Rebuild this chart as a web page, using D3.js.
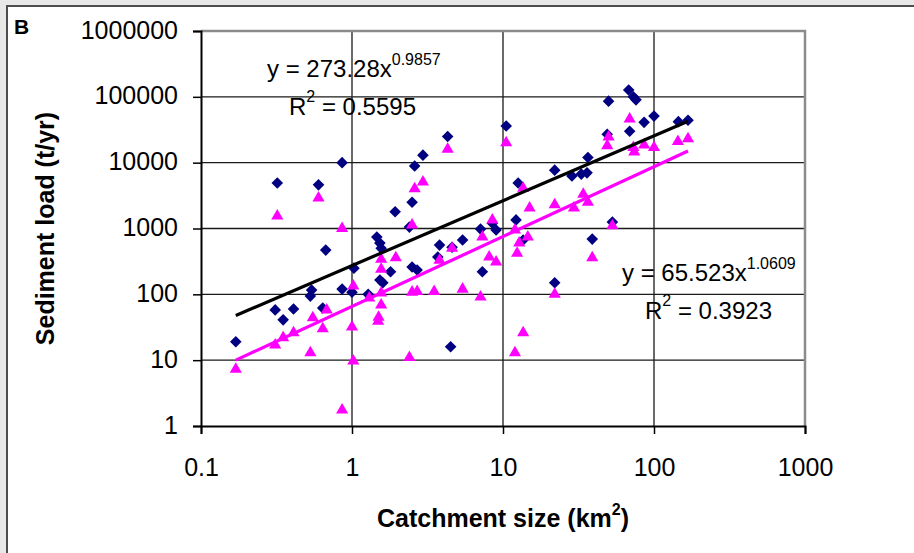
<!DOCTYPE html>
<html>
<head>
<meta charset="utf-8">
<script src="https://cdn.jsdelivr.net/npm/d3@7"></script>
<style>
  body { margin: 0; background: #e8e8e8; }
  svg { display: block; font-family: "Liberation Sans", Arial, sans-serif; }
</style>
</head>
<body>
<div id="chart"></div>
<script>
// catchment size (km2) vs sediment load (t/yr)
var diamondArea = [0.17, 0.32, 0.31, 0.35, 0.41, 0.6, 0.86, 0.54, 0.53, 0.67, 0.64, 0.86, 1.0, 1.03,
    1.46, 1.53, 1.56, 1.53, 1.6, 1.8, 1.28, 1.93, 2.5, 2.6, 2.95, 4.3, 10.5, 12.6, 22, 28.6, 33, 36,
    36.5, 12.2, 8.5, 7.1, 9, 5.4, 2.4, 3.8, 3.7, 2.5, 2.7, 7.3, 4.6, 13.6, 22, 39, 4.5, 68, 73, 76,
    50, 100, 86, 69, 49, 145, 168, 53];
var diamondLoad = [19, 4900, 58, 41, 60, 4600, 10000, 116, 94, 470, 62, 120, 108, 250,
    740, 600, 500, 165, 150, 220, 100, 1800, 2500, 8900, 13000, 25000, 36000, 4900, 7700, 6300, 6700, 7000,
    12000, 1350, 1200, 980, 950, 670, 1050, 560, 370, 260, 234, 220, 520, 670, 150, 690, 16, 127000, 100000, 90000,
    86000, 51000, 41000, 30000, 27000, 42000, 44000, 1250];

var triangleArea = [0.17, 0.32, 0.6, 0.86, 0.31, 0.35, 0.41, 0.53, 0.55, 0.68, 0.64, 1.0, 1.02, 0.86,
    1.02, 1.3, 1.56, 1.5, 1.49, 1.56, 1.56, 1.56, 1.95, 2.5, 2.6, 2.95, 4.3, 10.5, 2.4, 2.5, 2.7, 3.5,
    5.4, 7.1, 4.6, 3.8, 7.3, 8.1, 9, 8.5, 12.4, 12.8, 14.6, 12, 13.6, 12, 22, 39, 15, 22, 29.5, 34,
    36.5, 13.6, 69, 50, 49, 73, 74, 86, 100, 144, 168, 53];
var triangleLoad = [7.3, 1550, 2900, 1000, 17, 22, 26, 13, 44, 58, 30, 32, 9.7, 1.75,
    134, 88, 69, 45, 39, 105, 340, 240, 360, 1130, 4000, 5100, 16000, 20000, 11, 108, 110, 110,
    120, 91, 500, 330, 740, 370, 310, 1350, 420, 600, 740, 950, 26, 13, 100, 360, 2050, 2300, 2050, 3300,
    2500, 4100, 46000, 24500, 18000, 17000, 14500, 18500, 17000, 21000, 23000, 1100];

// power trendlines y = a * x^b, from the labels on the chart
var trendDiamond = {a: 273.28, b: 0.9857, r2: "0.5595"};
var trendTriangle = {a: 65.523, b: 1.0609, r2: "0.3923"};
var trendRange = [0.17, 168];

var xTicks = [0.1, 1, 10, 100, 1000];
var yTicks = [1, 10, 100, 1000, 10000, 100000, 1000000];

function getConfig(){
    let width = 914, height = 553;
    let margin = {top: 31, right: 109, bottom: 127, left: 201};
    let plot = {};
    plot.w = width - margin.left - margin.right;
    plot.h = height - margin.top - margin.bottom;
    plot.grid = "#1a1a1a";
    plot.border = "#8c8c8c";
    return {width, height, margin, plot};
}

function draw(){
    let config = getConfig();
    let m = config.margin;

    let svg = d3.select("#chart").append("svg")
        .attr("width", config.width)
        .attr("height", config.height);

    svg.append("rect").attr("width", config.width).attr("height", config.height).attr("fill", "#e8e8e8");
    // white panel with its dark frame
    svg.append("rect")
        .attr("x", 7).attr("y", 6)
        .attr("width", config.width + 20).attr("height", config.height + 20)
        .attr("fill", "white").attr("stroke", "#4d4d4d").attr("stroke-width", 2);

    svg.append("text")
        .attr("x", 14).attr("y", 34)
        .attr("font-size", 21).attr("font-weight", "bold")
        .text("B");

    let xScale = d3.scaleLog().domain([0.1, 1000]).range([m.left, m.left + config.plot.w]);
    let yScale = d3.scaleLog().domain([1, 1000000]).range([m.top + config.plot.h, m.top]);

    // gridlines
    let g = svg.append("g");
    g.selectAll(".hgrid")
        .data(yTicks.slice(1, -1))
        .join("line")
        .attr("x1", m.left).attr("x2", m.left + config.plot.w)
        .attr("y1", d => yScale(d)).attr("y2", d => yScale(d))
        .attr("stroke", config.plot.grid).attr("stroke-width", 1.3);
    g.selectAll(".vgrid")
        .data(xTicks.slice(1, -1))
        .join("line")
        .attr("y1", m.top).attr("y2", m.top + config.plot.h)
        .attr("x1", d => xScale(d)).attr("x2", d => xScale(d))
        .attr("stroke", config.plot.grid).attr("stroke-width", 1.3);

    // gray top / right border
    g.append("path")
        .attr("d", `M${m.left},${m.top}H${m.left + config.plot.w}V${m.top + config.plot.h}`)
        .attr("fill", "none").attr("stroke", config.plot.border).attr("stroke-width", 2.5);

    // axes
    let yAx = svg.append("g")
        .attr("transform", `translate(${m.left},0)`)
        .call(d3.axisLeft(yScale).tickValues(yTicks).tickFormat(d3.format("d")).tickSize(8).tickPadding(15));
    let xAx = svg.append("g")
        .attr("transform", `translate(0,${m.top + config.plot.h})`)
        .call(d3.axisBottom(xScale).tickValues(xTicks).tickFormat(d => String(d)).tickSize(8).tickPadding(24));
    [xAx, yAx].forEach(ax => {
        ax.select(".domain").attr("stroke", "#000").attr("stroke-width", 2);
        ax.selectAll(".tick line").attr("stroke", "#000").attr("stroke-width", 1.5);
        ax.selectAll(".tick text")
            .attr("font-size", 25)
            .attr("font-family", "Liberation Sans, Arial, sans-serif")
            .attr("fill", "#000");
    });
    yAx.selectAll(".tick text").attr("dy", "0.28em");

    // markers
    let diamonds = diamondArea.map((x, i) => ({x: x, y: diamondLoad[i]}));
    let triangles = triangleArea.map((x, i) => ({x: x, y: triangleLoad[i]}));

    svg.append("g").selectAll("path")
        .data(diamonds)
        .join("path")
        .attr("d", "M0,-5.8L5.8,0L0,5.8L-5.8,0Z")
        .attr("transform", d => `translate(${xScale(d.x)},${yScale(d.y)})`)
        .attr("fill", "#000080");

    svg.append("g").selectAll("path")
        .data(triangles)
        .join("path")
        .attr("d", d3.symbol(d3.symbolTriangle, 64)())
        .attr("transform", d => `translate(${xScale(d.x)},${yScale(d.y)})`)
        .attr("fill", "#ff00ff");

    // trendlines
    let line = d3.line().x(d => xScale(d[0])).y(d => yScale(d[1]));
    [[trendDiamond, "#000"], [trendTriangle, "#ff00ff"]].forEach(([t, col]) => {
        let pts = trendRange.map(x => [x, t.a * Math.pow(x, t.b)]);
        svg.append("path").attr("d", line(pts))
            .attr("fill", "none").attr("stroke", col).attr("stroke-width", 3.2);
    });

    // equation labels
    function equation(t, x, y, rx, ry){
        let e = svg.append("text").attr("x", x).attr("y", y).attr("font-size", 24);
        e.append("tspan").text(`y = ${t.a}x`);
        e.append("tspan").attr("dy", -12).attr("font-size", 16).text(t.b);
        let r = svg.append("text").attr("x", rx).attr("y", ry).attr("font-size", 24);
        r.append("tspan").text("R");
        r.append("tspan").attr("dy", -13).attr("font-size", 16).text("2");
        r.append("tspan").attr("dy", 13).text(` = ${t.r2}`);
    }
    equation(trendDiamond, 267, 77, 289, 115);
    equation(trendTriangle, 622, 281, 645, 319);

    // axis titles
    let xt = svg.append("text")
        .attr("x", m.left + config.plot.w / 2).attr("y", 527)
        .attr("text-anchor", "middle")
        .attr("font-size", 25).attr("font-weight", "bold");
    xt.append("tspan").text("Catchment size (km");
    xt.append("tspan").attr("dy", -12).attr("font-size", 16).text("2");
    xt.append("tspan").attr("dy", 12).text(")");

    svg.append("text")
        .attr("transform", `translate(54,${m.top + config.plot.h / 2}) rotate(-90)`)
        .attr("text-anchor", "middle")
        .attr("font-size", 25).attr("font-weight", "bold")
        .text("Sediment load (t/yr)");
}

draw();
</script>
</body>
</html>
